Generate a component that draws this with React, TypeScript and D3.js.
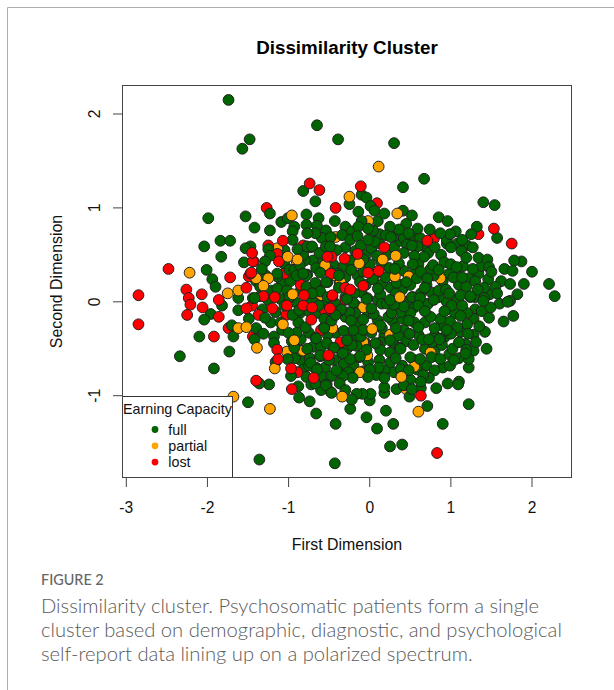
import React from "react";
import * as d3 from "d3";

const xTicks = [-3, -2, -1, 0, 1, 2];
const yTicks = [-1, 0, 1, 2];
const legendLabels = ["full", "partial", "lost"];
const legendColors = ["#006400", "#FFA500", "#FF0000"];
const captionLines = [
  "Dissimilarity cluster. Psychosomatic patients form a single",
  "cluster based on demographic, diagnostic, and psychological",
  "self-report data lining up on a polarized spectrum.",
];

const partialBack: number[][] = [
  [-0.02,0.86],[0.87,0.25],[0.48,0.27],[-0.42,0.69],[-0.37,0.20],[-0.61,0.07],
  [-0.59,0.07],[-0.36,0.21],[-0.90,0.43],[-0.46,0.28],[-0.46,-0.28],[0.55,-0.69],[0.75,-0.54],[-0.08,-0.43],[0.25,-0.35],[-0.03,-0.57],
  [-0.73,0.04],[-0.55,0.39],[-0.08,-0.06],[-1.14,0.57],[-1.02,-0.53],[-0.82,-0.52],[0.45,-0.93],[-0.12,-0.75],
];
const lostBack: number[][] = [
  [-1.27,1.0],[0.09,1.05],[0.79,0.67],[1.34,0.72],
  [-1.25,0.60],[-1.43,0.43],[-1.49,0.27],[-1.14,0.51],[-1.12,0.43],[-1.74,-0.28],[-1.44,-0.37],[-0.36,-0.43],[0.09,-0.45],
  [-0.89,-0.75],[-1.37,-0.14],[-1.45,-0.04],[-0.82,0.60],[-0.98,0.05],[-1.03,-0.14],[-0.55,-0.10],[-0.30,0.02],[-0.65,0.15],
  [-0.85,0.18],[-1.05,0.30],[-0.60,-0.30],
];
const fullMain: number[][] = [
  [-1.74,2.15],[-1.48,1.73],[-1.57,1.63],[-1.99,0.89],[-1.53,0.91],[-1.42,0.79],[-1.23,0.76],[-1.84,0.65],[-1.72,0.65],[-2.04,0.59],
  [-1.83,0.48],[-2.01,0.34],[-1.94,0.24],[-1.90,0.16],[-0.82,1.18],[-0.65,1.88],[-0.39,1.73],[0.30,1.69],[0.67,1.31],[0.41,1.22],
  [1.40,1.06],[1.54,1.03],[1.57,0.68],[2.21,0.19],[2.28,0.06],[2.0,0.32],[1.87,0.43],[1.78,0.44],[1.66,0.35],[1.76,0.33],
  [1.90,0.19],[1.73,0.19],[1.82,0.08],[1.55,0.16],[-0.67,1.07],[-0.10,1.14],[-0.04,1.11],[-0.25,1.04],[-0.14,0.96],[0.01,1.02],
  [0.06,0.97],[0.18,0.94],[0.41,0.97],[0.52,0.92],[0.85,0.90],[0.96,0.86],[1.32,0.80],[1.25,0.72],[1.14,0.66],[1.06,0.75],
  [0.99,0.72],[0.87,0.73],[0.74,0.77],[0.59,0.78],[0.45,0.83],[0.36,0.77],[0.25,0.80],[0.20,0.71],[0.26,0.69],[0.48,0.73],
  [0.04,0.76],[-0.10,0.86],[-0.14,0.80],[-0.02,0.78],[-0.34,0.71],[-0.24,0.66],[-0.15,0.70],[0.06,0.64],[-0.11,0.60],[-0.02,0.66],
  [-0.63,0.89],[-0.43,0.86],[-0.54,0.76],[-0.65,0.81],[-0.59,0.68],[-0.48,0.69],[-0.67,0.73],[-0.73,0.58],[-0.54,0.59],[-0.41,0.55],
  [0.46,0.61],[0.59,0.59],[0.42,0.52],[0.67,0.48],[0.80,0.58],[1.0,0.58],[1.13,0.54],[1.27,0.58],[1.19,0.47],[1.34,0.47],
  [1.45,0.45],[1.0,0.40],[1.07,0.37],[1.27,0.35],[1.47,0.37],[1.50,0.32],[0.55,0.49],[0.53,0.40],[0.36,0.41],[0.09,0.49],
  [-0.24,0.44],[-0.23,0.34],[-0.39,0.30],[-0.61,0.31],[-0.52,0.21],[-0.62,0.12],[-0.38,0.15],[0.04,0.24],[0.20,0.26],[0.33,0.20],
  [0.45,0.21],[0.58,0.25],[0.79,0.28],[0.75,0.35],[0.63,0.32],[0.32,0.09],[0.13,0.08],[-0.03,0.04],[-0.19,0.09],[0.53,0.05],
  [0.63,0.09],[0.85,0.12],[0.94,0.13],[1.10,0.18],[1.19,0.16],[1.03,0.26],[1.14,0.26],[1.41,0.15],[1.33,0.13],[1.24,0.05],
  [1.41,0.04],[1.57,0.09],[1.12,0.07],[0.98,0.09],[1.73,0.01],[-0.43,-1.72],[0.25,-1.54],[0.40,-1.52],[0.90,-1.30],[1.22,-1.09],
  [0.29,-1.30],[0.09,-1.35],[-0.04,-1.23],[-0.42,-1.30],[-0.66,-1.19],[0.20,-1.16],[-0.24,-1.14],[0.71,-1.11],[-0.74,-1.06],[0.49,-1.01],
  [0,-1.05],[0.01,-0.98],[-0.09,-0.98],[-0.16,-0.98],[-0.22,-1.04],[0.18,-0.97],[0.18,-0.91],[0.33,-0.93],[0.63,-0.92],[0.82,-0.92],
  [0.96,-0.87],[1.10,-0.85],[1.09,-0.88],[1.22,-0.70],[1.22,-0.61],[0.99,-0.68],[0.80,-0.73],[0.73,-0.81],[0.66,-0.78],[0.63,-0.85],
  [0.50,-0.83],[0.48,-0.73],[0.42,-0.89],[0.18,-0.73],[0.18,-0.81],[0.11,-0.70],[0,-0.72],[-0.02,-0.80],[-0.21,-0.81],[-0.33,-0.79],
  [-0.47,-0.79],[-0.41,-0.73],[-0.53,-0.88],[-0.60,-0.94],[-0.48,-0.96],[-0.37,-0.87],[-0.30,-0.94],[-0.67,-0.87],[-0.67,-0.71],[-0.50,-0.62],
  [-0.61,-0.58],[-0.74,-0.60],[-0.34,-0.55],[-0.13,-0.59],[-0.24,-0.61],[-0.16,-0.47],[-0.04,-0.51],[0.13,-0.51],[0.25,-0.54],[0.37,-0.49],
  [0.32,-0.60],[0.50,-0.59],[0.62,-0.61],[0.76,-0.59],[0.87,-0.61],[1.02,-0.50],[1.18,-0.45],[1.19,-0.51],[1.04,-0.62],[1.31,-0.43],
  [1.44,-0.50],[0.87,-0.39],[0.89,-0.46],[0.77,-0.43],[0.54,-0.46],[0.65,-0.40],[0.35,-0.36],[0.49,-0.34],[0.25,-0.41],[0.07,-0.44],
  [-0.11,-0.37],[-0.27,-0.40],[-0.45,-0.49],[-0.53,-0.44],[-0.67,-0.38],[-0.32,-0.31],[-0.56,-0.27],[-0.13,-0.23],[1.47,-0.17],[1.65,-0.21],
  [1.77,-0.15],[1.70,0],[1.49,-0.06],[1.40,0.01],[1.24,0.06],[1.20,-0.12],[1.35,-0.26],[1.20,-0.24],[1.21,-0.34],[1.01,-0.04],
  [1.14,-0.04],[0.99,-0.21],[1.08,-0.27],[0.87,-0.18],[0.75,-0.16],[0.60,-0.27],[0.50,-0.12],[0.38,-0.11],[0.23,-0.16],[0.05,-0.13],
  [-0.08,-0.19],[0.15,-0.28],[0.86,-0.40],[0.79,0.02],[0.52,0.05],[0.62,0.04],[-0.04,0.03],[0.15,-0.02],[-0.18,-0.12],[-0.22,-0.46],
  [0.38,-0.50],[1.18,-0.55],[-1.62,0.04],[-1.82,-0.04],[-1.96,-0.13],[-2.04,-0.19],[-1.62,-0.09],[-1.44,0.04],[-1.49,-0.18],[-1.29,-0.17],
  [-1.70,-0.25],[-1.68,-0.37],[-2.10,-0.37],[-1.73,-0.53],[-1.40,-0.28],[-1.31,-0.34],[-1.42,-0.40],[-1.92,-0.71],[-2.34,-0.58],[-1.18,-0.37],
  [-1.18,-0.44],[-1.0,-0.33],[-0.93,-0.49],[-1.01,-0.61],[-1.10,-0.22],[-0.88,-0.22],[-0.77,-0.50],[-0.66,-0.39],[-0.79,-0.27],[-0.95,-0.14],
  [-1.14,0.14],[-1.16,-0.11],[-1.35,0.16],[-1.14,0.27],[-0.94,0.34],[-0.77,0.29],[-0.78,0.16],[-0.67,0.20],[-0.61,0.11],[-0.71,0],
  [-0.63,-0.04],[-0.56,-0.18],[-0.56,-0.28],[-0.44,-0.49],[-0.36,-0.09],[-0.25,-0.11],[-0.20,-0.01],[-0.28,-0.41],[-0.33,-0.55],[-0.66,-0.70],
  [-0.75,-0.68],[-1.24,-0.88],[-1.36,-0.87],[-1.50,-1.07],[-0.87,-1.02],[-0.97,-0.79],[-1.16,-0.64],[-0.54,-0.89],[-0.47,-0.97],[-0.73,-0.65],
  [-0.65,-0.72],[-0.61,-0.57],[-0.12,-0.58],[0.52,-0.93],[0.73,-0.40],[1.10,-0.43],[1.0,-0.34],[-0.08,-0.30],[-0.20,-0.30],[-1.23,0.94],
  [-1.09,0.85],[-1.01,0.89],[-0.93,0.80],[-0.95,0.75],[-0.78,0.93],[-0.78,0.82],[-0.95,0.66],[-0.77,0.73],[-0.89,0.56],[-0.77,0.59],
  [-1.25,0.56],[-1.47,0.59],[-1.53,0.57],[-1.23,0.49],[-1.29,0.43],[-1.55,0.42],[-1.33,0.35],[-1.14,0.30],[-0.99,0.34],[-0.93,0.34],
  [-0.90,0.28],[-0.78,0.28],[-0.86,0.39],[-1.35,0.06],[-1.02,0.12],[-0.99,0.05],[-1.05,-0.04],[-0.71,0.59],[-0.49,0.59],[-0.08,0.32],
  [-0.35,-0.08],[0.27,-0.12],[0.78,0.39],[0.71,0.25],[0.85,0.34],[0.60,-0.04],[0.42,-0.05],[0.21,-0.02],[-0.71,0.09],[-1.36,-1.68],
  [-0.87,-0.09],[-0.47,-0.20],[-0.28,0.03],[-0.12,0.21],[0.10,0.14],[0.30,-0.03],[0.48,-0.20],[0.68,0.15],[0.92,-0.10],
  [-0.52,0.05],[-0.42,-0.14],[0.02,-0.07],[0.13,-0.25],[0.32,-0.28],[0.68,-0.10],[0.80,-0.28],[0.95,-0.30],[1.12,-0.15],[0.25,0.02],
];
const fullDense: number[][] = [
  [-0.30,0.58],[-0.18,0.54],[-0.05,0.50],[0.02,0.57],[0.12,0.62],[0.22,0.50],[0.30,0.58],[0.38,0.65],[0.55,0.67],[0.66,0.60],
  [0.72,0.52],[0.88,0.50],[0.95,0.62],[1.08,0.62],[1.20,0.60],[0.92,0.42],[1.15,0.38],[1.34,0.30],[1.38,0.38],[0.60,0.40],
  [0.42,0.33],[0.24,0.36],[0.14,0.42],[0.0,0.40],[-0.08,0.45],[-0.32,0.38],[-0.45,0.40],[-0.58,0.42],[-0.70,0.44],[-0.66,0.36],
  [-0.50,0.33],[-0.30,0.26],[-0.15,0.28],[-0.05,0.18],[0.08,0.30],[0.14,0.18],[0.26,0.15],[0.40,0.13],[0.50,0.18],[0.56,0.32],
  [0.70,0.18],[0.76,0.10],[0.90,0.22],[0.98,0.30],[1.08,0.28],[1.22,0.25],[1.30,0.22],[1.46,0.24],[1.62,0.22],[1.30,0.05],
  [1.48,0.08],[1.60,-0.02],[1.30,-0.08],[1.08,0.02],[0.95,0.0],[0.85,0.05],[0.72,-0.02],[0.55,-0.06],[0.45,0.0],[0.35,-0.08],
  [0.10,0.02],[-0.10,0.10],[-0.30,0.05],[-0.42,-0.02],[-0.55,0.02],[-0.62,-0.12],[-0.48,-0.13],[-0.30,-0.16],[-0.15,-0.05],[-0.02,-0.12],
  [0.10,-0.20],[0.28,-0.20],[0.40,-0.18],[0.55,-0.22],[0.68,-0.22],[0.88,-0.25],[1.05,-0.12],[1.28,-0.18],[1.38,-0.10],[1.42,-0.32],
  [1.28,-0.35],[1.12,-0.32],[0.92,-0.38],[0.80,-0.36],[0.60,-0.35],[0.42,-0.30],[0.18,-0.36],[0.02,-0.33],[-0.18,-0.37],[-0.42,-0.33],
  [-0.52,-0.35],[-0.75,-0.33],[-0.85,-0.40],[-0.90,-0.33],[-0.70,-0.48],[-0.60,-0.48],[-0.36,-0.48],[-0.28,-0.50],[-0.05,-0.44],[0.14,-0.43],
  [0.30,-0.45],[0.45,-0.42],[0.68,-0.50],[0.80,-0.52],[0.98,-0.56],[1.10,-0.60],[1.28,-0.52],[0.90,-0.70],[0.70,-0.68],[0.55,-0.62],
  [0.40,-0.68],[0.25,-0.65],[0.12,-0.62],[-0.02,-0.64],[-0.20,-0.68],[-0.32,-0.66],[-0.44,-0.62],[-0.55,-0.70],[-0.38,-0.75],[-0.26,-0.75],
  [-0.08,-0.74],[0.08,-0.78],[0.30,-0.75],[0.38,-0.72],[0.58,-0.72],[0.45,-0.80],[-0.85,-0.62],[-0.82,-0.72],[-0.78,-0.80],[-0.72,-0.88],
  [-0.58,-0.80],[-0.88,-0.90],[-0.92,-0.60],[-0.85,-0.52],[-0.96,-0.42],[-1.08,-0.30],[-1.22,-0.22],[-1.32,-0.08],[-1.25,0.02],[-1.10,0.03],
  [-1.08,0.20],[-1.22,0.12],[-1.40,0.22],[-1.28,0.28],[-1.05,0.40],[-0.98,0.22],[-0.85,0.12],[-0.92,0.0],[-0.86,-0.12],[-0.75,-0.10],
  [-0.80,0.44],[-0.62,0.52],[-0.82,0.50],[-1.05,0.55],[-0.30,0.80],[-0.22,0.75],[0.10,0.86],[0.12,0.72],[0.30,0.70],[0.42,0.68],
  [0.62,0.68],[0.80,0.70],[0.95,0.66],
];
const partialTop: number[][] = [
  [0.11,1.44],[-0.25,1.12],[0.34,0.94],[0.16,0.45],[-2.22,0.31],[-1.75,0.09],[-1.62,0.12],[-1.62,-0.28],[-1.52,-0.27],[-1.25,0.25],
  [-1.31,0.17],[-1.40,0.25],[-1.39,-0.49],[-1.07,-0.24],[-0.93,-0.41],[-0.95,0.08],[-1.17,-0.71],[-1.68,-1.01],[-1.23,-1.14],[-0.34,-1.01],
  [0.03,-0.29],[0.60,-1.17],[0.39,-0.80],[-0.96,0.92],[-1.01,0.48],[-0.89,0.45],[0.31,0.27],[0.32,0.49],[-0.13,0.41],[0.37,0.05],
];
const lostTop: number[][] = [
  [-2.48,0.35],[-2.85,0.07],[-2.26,0.13],[-2.07,0.08],[-1.72,0.26],[-2.23,0.04],[-2.21,-0.03],[-2.25,-0.14],[-2.06,-0.06],[-1.86,0.02],
  [-1.86,-0.16],[-1.92,-0.37],[-2.85,-0.24],[-1.52,0.15],[-1.31,0.06],[-1.17,0.05],[-1.52,-0.07],[-1.47,0.30],[-1.20,-0.07],[-1.14,-0.51],
  [-1.13,-0.61],[-0.97,-0.71],[-0.81,0.07],[-0.82,-0.04],[-0.72,-0.19],[-0.49,-0.07],[-0.46,0.06],[-0.51,-0.57],[-1.02,-0.04],[-1.44,0.43],
  [-0.74,1.26],[-0.62,1.19],[-0.11,1.23],[-0.42,1.0],[1.53,0.78],[1.75,0.62],[0.71,0.65],[0.18,0.58],[-0.47,0.48],[-0.02,0.31],
  [-0.08,0.17],[-0.46,0.07],[-1.40,-0.84],[-0.96,-0.93],[-0.69,-0.81],[0.63,-1.0],[0.83,-1.61],[-1.07,0.65],[-1.45,0.52],[-1.46,0.31],
  [-0.52,0.48],[-0.31,0.46],[-0.15,0.51],[0.11,0.33],[-0.48,0.30],[-0.30,0.15],[-0.24,0.13],[-0.71,-0.06],
];
const fullTop: number[][] = [
  [-1.42,0.04],[-0.82,0.30],[-0.54,0.21],[-0.38,0.28],[0.31,0.35],[0.52,0.60],[-0.23,-0.20],
];

const x = d3.scaleLinear().domain([-3, 2]).range([126.3, 532]);
const y = d3.scaleLinear().domain([-1, 2]).range([395.7, 114]);
const box = { left: 122.5, right: 571.5, top: 85.5, bottom: 477.5 };
const sans = "'Liberation Sans', Arial, sans-serif";

function Dots({ data, fill }: { data: number[][]; fill: string }) {
  return (
    <g fill={fill} stroke="#222" strokeWidth={1}>
      {data.map((d, i) => (
        <circle key={i} cx={x(d[0])} cy={y(d[1])} r={5.4} />
      ))}
    </g>
  );
}

export default function App() {
  return (
    <svg
      width={614}
      height={690}
      style={{ position: "absolute", left: 0, top: 0, background: "#fff" }}
    >
      <path d="M7.5 690V7.5H614" fill="none" stroke="#adadad" strokeWidth={1} />
      <text x={347} y={54} textAnchor="middle" fontFamily={sans} fontWeight={700} fontSize={18.8} fill="#000">
        Dissimilarity Cluster
      </text>
      <Dots data={fullDense} fill={legendColors[0]} />
      <Dots data={partialBack} fill={legendColors[1]} />
      <Dots data={lostBack} fill={legendColors[2]} />
      <Dots data={fullMain} fill={legendColors[0]} />
      <Dots data={partialTop} fill={legendColors[1]} />
      <Dots data={lostTop} fill={legendColors[2]} />
      <Dots data={fullTop} fill={legendColors[0]} />
      <rect x={box.left} y={396.5} width={110} height={81} fill="#fff" stroke="#333" />
      <rect x={box.left} y={box.top} width={box.right - box.left} height={box.bottom - box.top} fill="none" stroke="#444" />
      {xTicks.map((t) => (
        <g key={t}>
          <line x1={x(t)} x2={x(t)} y1={box.bottom} y2={487} stroke="#444" />
          <text x={x(t)} y={512.5} textAnchor="middle" fontFamily={sans} fontSize={15.6} fill="#111">
            {t}
          </text>
        </g>
      ))}
      {yTicks.map((t) => (
        <g key={t}>
          <line x1={box.left} x2={113} y1={y(t)} y2={y(t)} stroke="#444" />
          <text
            transform={`translate(100,${y(t)}) rotate(-90)`}
            textAnchor="middle"
            fontFamily={sans}
            fontSize={15.6}
            fill="#111"
          >
            {t}
          </text>
        </g>
      ))}
      <text x={347} y={550} textAnchor="middle" fontFamily={sans} fontSize={15.9} fill="#111">
        First Dimension
      </text>
      <text
        transform={`translate(62,281.5) rotate(-90)`}
        textAnchor="middle"
        fontFamily={sans}
        fontSize={15.9}
        fill="#111"
      >
        Second Dimension
      </text>
      <text x={123} y={413.5} fontFamily={sans} fontSize={14.3} fill="#111">
        Earning Capacity
      </text>
      {legendLabels.map((l, i) => (
        <g key={l}>
          <circle cx={155} cy={429.5 + i * 16.3} r={3.4} fill={legendColors[i]} />
          <text x={168.3} y={434.5 + i * 16.3} fontFamily={sans} fontSize={14.3} fill="#111">
            {l}
          </text>
        </g>
      ))}
      <text x={41} y={584.5} fontFamily="Lato, sans-serif" fontWeight={500} fontSize={14.4} fill="#666">
        FIGURE 2
      </text>
      {captionLines.map((l, i) => (
        <text key={i} x={41} y={612.5 + i * 24} fontFamily="Lato, sans-serif" fontWeight={300} fontSize={20.2} fill="#5a5a5a">
          {l}
        </text>
      ))}
    </svg>
  );
}
